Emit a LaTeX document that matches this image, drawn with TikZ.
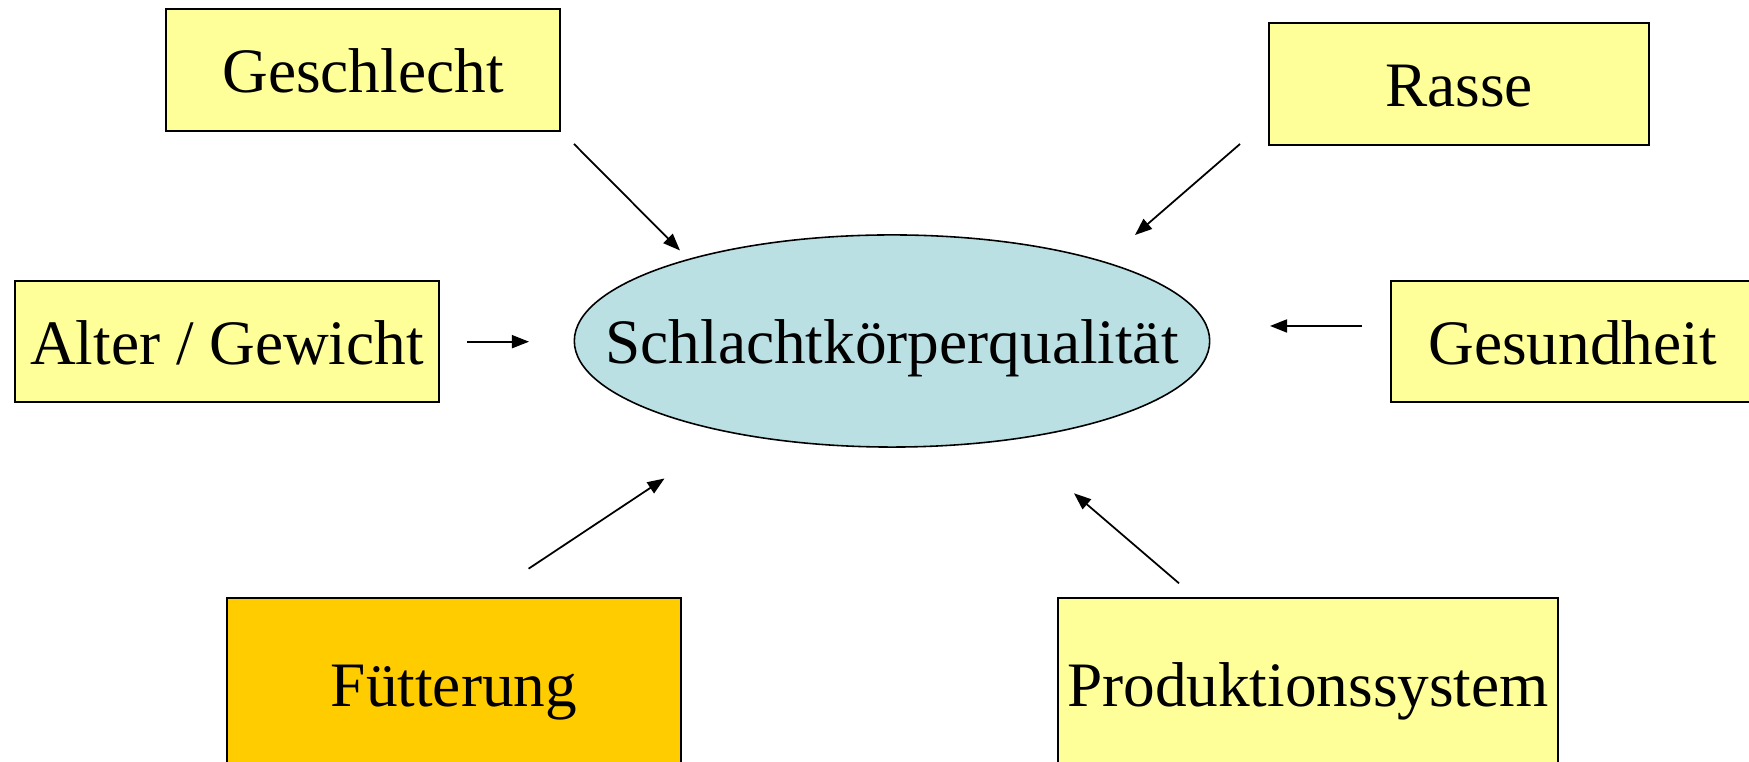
\documentclass[tikz,border=0pt]{standalone}
\usepackage{fontspec}
\setmainfont{Liberation Serif}
\usetikzlibrary{arrows.meta,shapes.geometric}

\definecolor{factoryellow}{HTML}{FFFF99}
\definecolor{feedorange}{HTML}{FFCC00}
\definecolor{qualblue}{HTML}{BBE0E3}

\begin{document}
\begin{tikzpicture}[
  x=0.01cm, y=-0.01cm,
  font=\fontsize{18}{21}\selectfont,
  factor/.style={draw, line width=0.6pt, fill=factoryellow, inner sep=0pt,
                 text height=13pt, text depth=0pt, minimum height=1.215cm},
  quality/.style={draw, ellipse, line width=0.45pt, fill=qualblue, inner sep=0pt,
                  minimum width=6.35cm, minimum height=2.12cm},
  >={Triangle[length=0.17cm, width=0.13cm]}, line width=0.5pt
]
  \useasboundingbox (0,0) rectangle (1749,762);

  \node[quality] (qual) at (892,341) {};
  \node[text height=13pt, text depth=0pt] (qualtext) at (qual.center) {Schlachtkörperqualität};

  \node[factor, minimum width=3.94cm] (gesch)  at (363,70)     {Geschlecht};
  \node[factor, minimum width=3.80cm] (rasse)  at (1459,84)    {Rasse};
  \node[factor, minimum width=4.24cm] (alter)  at (227,341.5)  {Alter / Gewicht};
  \node[factor, minimum width=3.63cm] (gesund) at (1572.5,341.5) {Gesundheit};
  \node[factor, minimum width=4.545cm, minimum height=1.71cm, fill=feedorange] (fuett) at (454,684) {Fütterung};
  \node[factor, minimum width=5.005cm, minimum height=1.71cm] (prod) at (1308,684) {Produktionssystem};

  % arrow ends, the arrows stop short of the boxes and the ellipse
  \coordinate (geschA)  at (574,144);    \coordinate (geschB)  at (680,250.5);
  \coordinate (rasseA)  at (1240,144);   \coordinate (rasseB)  at (1135,235);
  \coordinate (alterA)  at (467,341.7);  \coordinate (alterB)  at (529,341.7);
  \coordinate (gesundA) at (1362,326);   \coordinate (gesundB) at (1270,326);
  \coordinate (fuettA)  at (528.6,568.7); \coordinate (fuettB) at (664.5,478.5);
  \coordinate (prodA)   at (1179,583.3); \coordinate (prodB)   at (1074,493.3);

  \draw[->] (geschA)  -- (geschB);
  \draw[->] (rasseA)  -- (rasseB);
  \draw[->] (alterA)  -- (alterB);
  \draw[->] (gesundA) -- (gesundB);
  \draw[->] (fuettA)  -- (fuettB);
  \draw[->] (prodA)   -- (prodB);
\end{tikzpicture}
\end{document}
